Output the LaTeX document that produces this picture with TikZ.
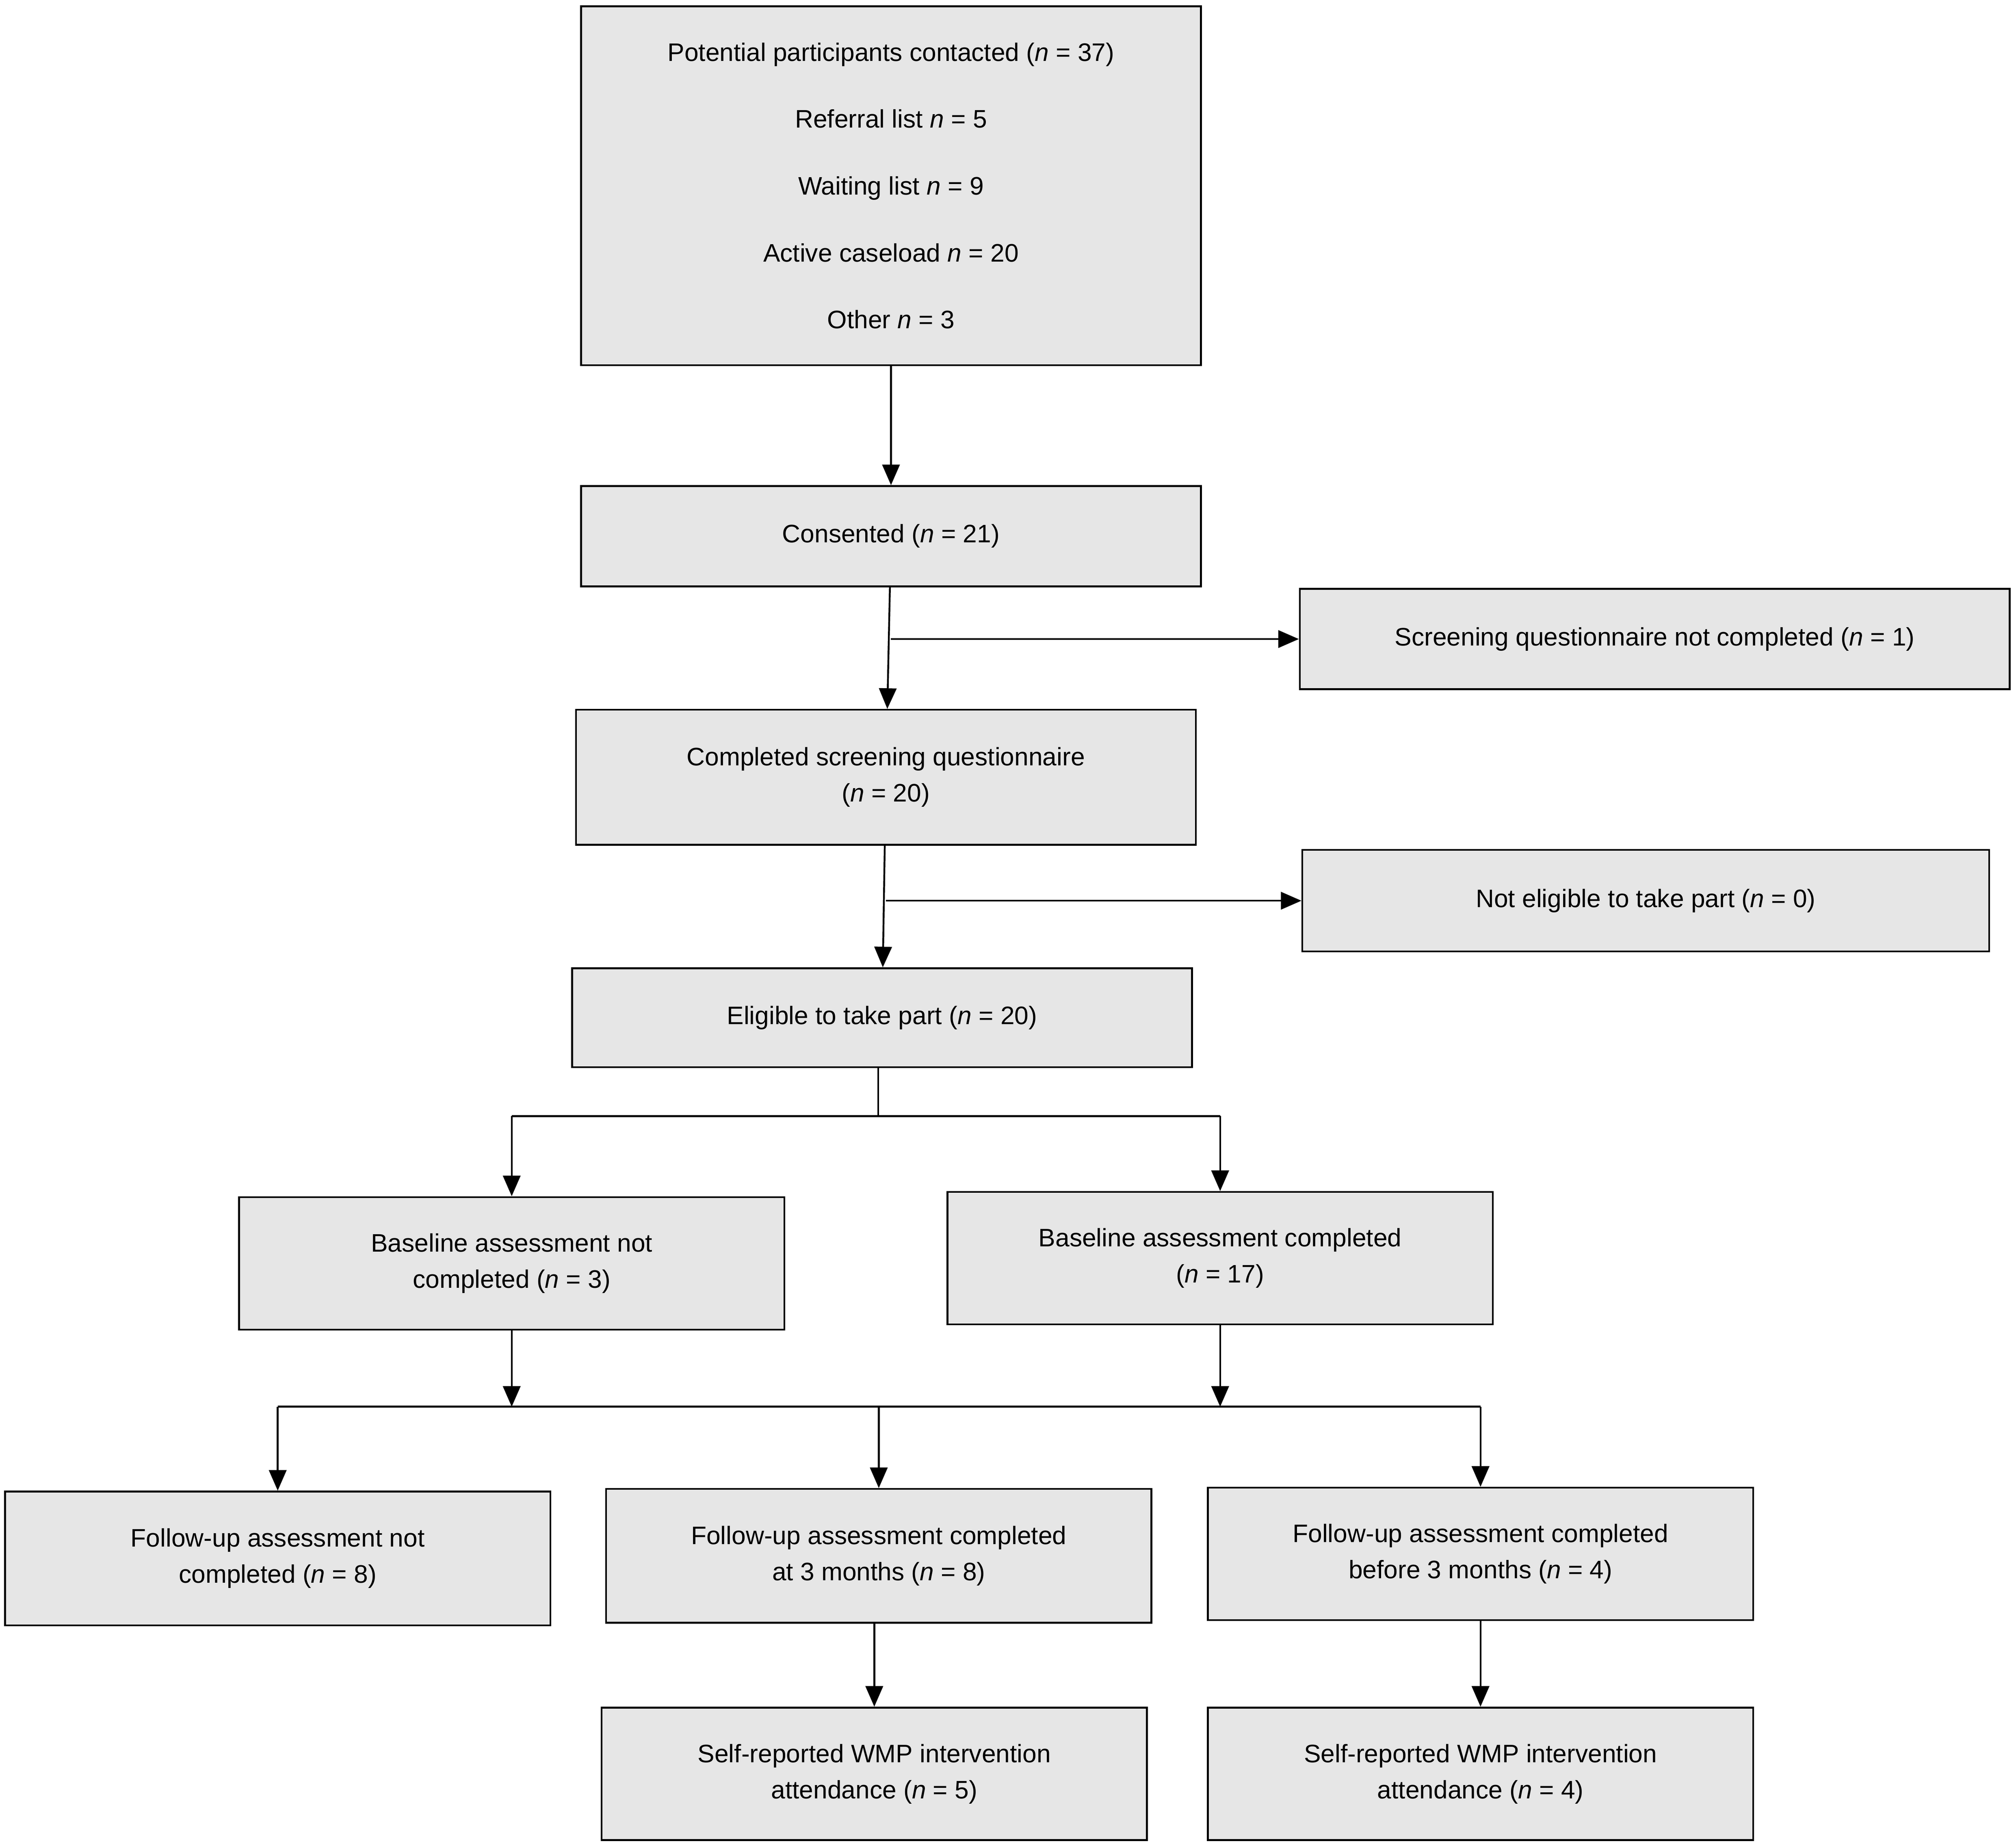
\documentclass[tikz,border=0pt]{standalone}
\usepackage{fontspec}
\setmainfont{Liberation Sans}
\usetikzlibrary{arrows.meta,positioning,calc}
\definecolor{boxgray}{RGB}{230,230,230}
\newcommand{\nv}{\textit{n}}
\tikzset{
    line/.style  = {draw=black, line width=1pt},
    arr/.style   = {line, -{Triangle[length=4mm,width=3.4mm]}},
    box/.style   = {draw=black, line width=1pt, fill=boxgray, align=center,
            minimum width=10.6cm, minimum height=2.575cm, inner sep=2pt,
            font=\fontsize{14}{20}\selectfont},
    wide/.style  = {box, minimum width=12.05cm, minimum height=1.95cm},
}
\begin{document}
\begin{tikzpicture}[x=0.025cm,y=-0.025cm]
    \useasboundingbox (0,0) rectangle (1568,1437);
    % Nodes
    \node[wide, minimum height=6.975cm, font=\fontsize{14}{37}\selectfont] (contact) at (693,144.5)
        {Potential participants contacted (\nv{} = 37)\\Referral list \nv{} = 5\\Waiting list \nv{} = 9\\Active caseload \nv{} = 20\\Other \nv{} = 3};
    \node[wide] (consent) at (693,417) {Consented (\nv{} = 21)};
    \node[wide, minimum width=13.8cm] (screenNo) at (1287,497) {Screening questionnaire not completed (\nv{} = 1)};
    \node[wide, minimum height=2.625cm] (screen) at (689,604.5) {Completed screening questionnaire\\(\nv{} = 20)};
    \node[wide, minimum width=13.35cm, minimum height=1.975cm] (notElig) at (1280,700.5) {Not eligible to take part (\nv{} = 0)};
    \node[wide, minimum height=1.925cm] (elig) at (686,791.5) {Eligible to take part (\nv{} = 20)};
    \node[box] (baseNo) at (398,982.5) {Baseline assessment not\\completed (\nv{} = 3)};
    \node[box] (baseYes) at (949,978.5) {Baseline assessment completed\\(\nv{} = 17)};
    \node[box, minimum height=2.6cm] (fuNo) at (216,1212) {Follow-up assessment not\\completed (\nv{} = 8)};
    \node[box, minimum height=2.6cm] (fuThree) at (683.5,1210) {Follow-up assessment completed\\at 3 months (\nv{} = 8)};
    \node[box] (fuBefore) at (1151.5,1208.5) {Follow-up assessment completed\\before 3 months (\nv{} = 4)};
    \node[box] (wmpA) at (680,1379.5) {Self-reported WMP intervention\\attendance (\nv{} = 5)};
    \node[box] (wmpB) at (1151.5,1379.5) {Self-reported WMP intervention\\attendance (\nv{} = 4)};
    % Arrows
    \draw[arr] (contact) -- (consent);
    \draw[arr] (consent) -- (screen);
    \draw[arr] (consent.south |- screenNo) -- (screenNo);
    \draw[arr] (screen) -- (elig);
    \draw[arr] (screen.south |- notElig) -- (notElig);
    \coordinate (split) at (683,868);
    \coordinate (merge) at (683,1094);
    \draw[line] (elig.south -| split) -- (split);
    \draw[line] (split -| baseNo) -- (split -| baseYes);
    \draw[arr] (split -| baseNo) -- (baseNo);
    \draw[arr] (split -| baseYes) -- (baseYes);
    \draw[arr] (baseNo) -- (baseNo |- merge);
    \draw[arr] (baseYes) -- (baseYes |- merge);
    \draw[line] (merge -| fuNo) -- (merge -| fuBefore);
    \draw[arr] (merge -| fuNo) -- (fuNo);
    \draw[arr] (merge -| fuThree) -- (fuThree);
    \draw[arr] (merge -| fuBefore) -- (fuBefore);
    \draw[arr] (fuThree.south -| wmpA) -- (wmpA);
    \draw[arr] (fuBefore) -- (wmpB);
\end{tikzpicture}
\end{document}
